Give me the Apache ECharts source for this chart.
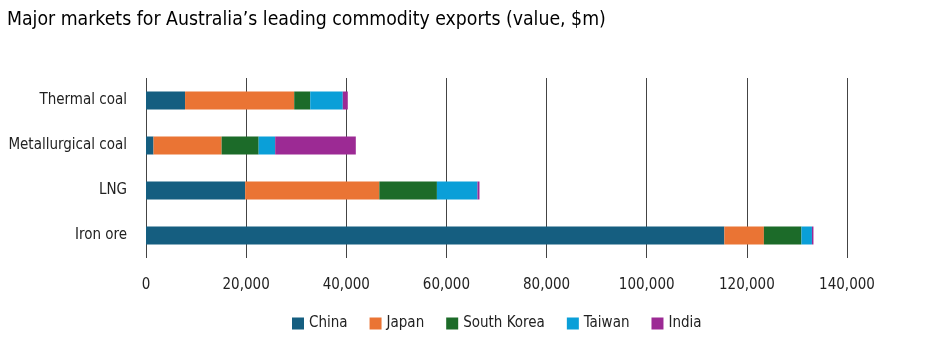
<!DOCTYPE html>
<html><head><meta charset="utf-8">
<script src="https://cdn.jsdelivr.net/npm/echarts@6/dist/echarts.min.js"></script>
<style>html,body{margin:0;padding:0;background:#fff}#c{width:941px;height:347px}</style>
</head><body><div id="c"></div>
<script>
const categories = ['Iron ore', 'LNG', 'Metallurgical coal', 'Thermal coal'];
const seriesNames = ['China', 'Japan', 'South Korea', 'Taiwan', 'India'];
const china = [115500, 19800, 1500, 7800];
const japan = [7900, 26800, 13600, 21800];
const southKorea = [7500, 11500, 7400, 3200];
const taiwan = [2100, 8100, 3300, 6500];
const india = [300, 400, 16100, 1000];
const colors = ['#155e80', '#ea7434', '#1c6b29', '#0a9fd8', '#9c2a94'];
const values = [china, japan, southKorea, taiwan, india];
const FONT = '"DejaVu Sans Condensed", sans-serif';

const chart = echarts.init(document.getElementById('c'), null, {renderer: 'canvas'});
chart.setOption({
  animation: false,
  title: {
    text: 'Major markets for Australia\u2019s leading commodity exports (value, $m)',
    left: 2, top: 5,
    textStyle: {fontFamily: FONT, fontSize: 19.3, fontWeight: 'normal', color: '#000'}
  },
  legend: {
    bottom: 11, left: 287,
    itemWidth: 12, itemHeight: 12, itemGap: 22,
    icon: 'rect',
    textStyle: {fontFamily: FONT, fontSize: 15, color: '#222'},
    data: seriesNames
  },
  grid: {left: 146, right: 94, top: 78, bottom: 89, containLabel: false},
  xAxis: {
    type: 'value', min: 0, max: 140000, interval: 20000,
    axisLine: {show: false}, axisTick: {show: false},
    splitLine: {lineStyle: {color: '#444', width: 1}},
    axisLabel: {
      fontFamily: FONT, fontSize: 15, color: '#222', margin: 20,
      formatter: v => v.toLocaleString('en-US')
    }
  },
  yAxis: {
    type: 'category', data: categories,
    axisLine: {show: false}, axisTick: {show: false},
    axisLabel: {fontFamily: FONT, fontSize: 15, color: '#222', margin: 19}
  },
  series: seriesNames.map((n, i) => ({
    name: n, type: 'bar', stack: 'total', data: values[i],
    barWidth: 18,
    itemStyle: {color: colors[i]}
  }))
});
</script></body></html>
